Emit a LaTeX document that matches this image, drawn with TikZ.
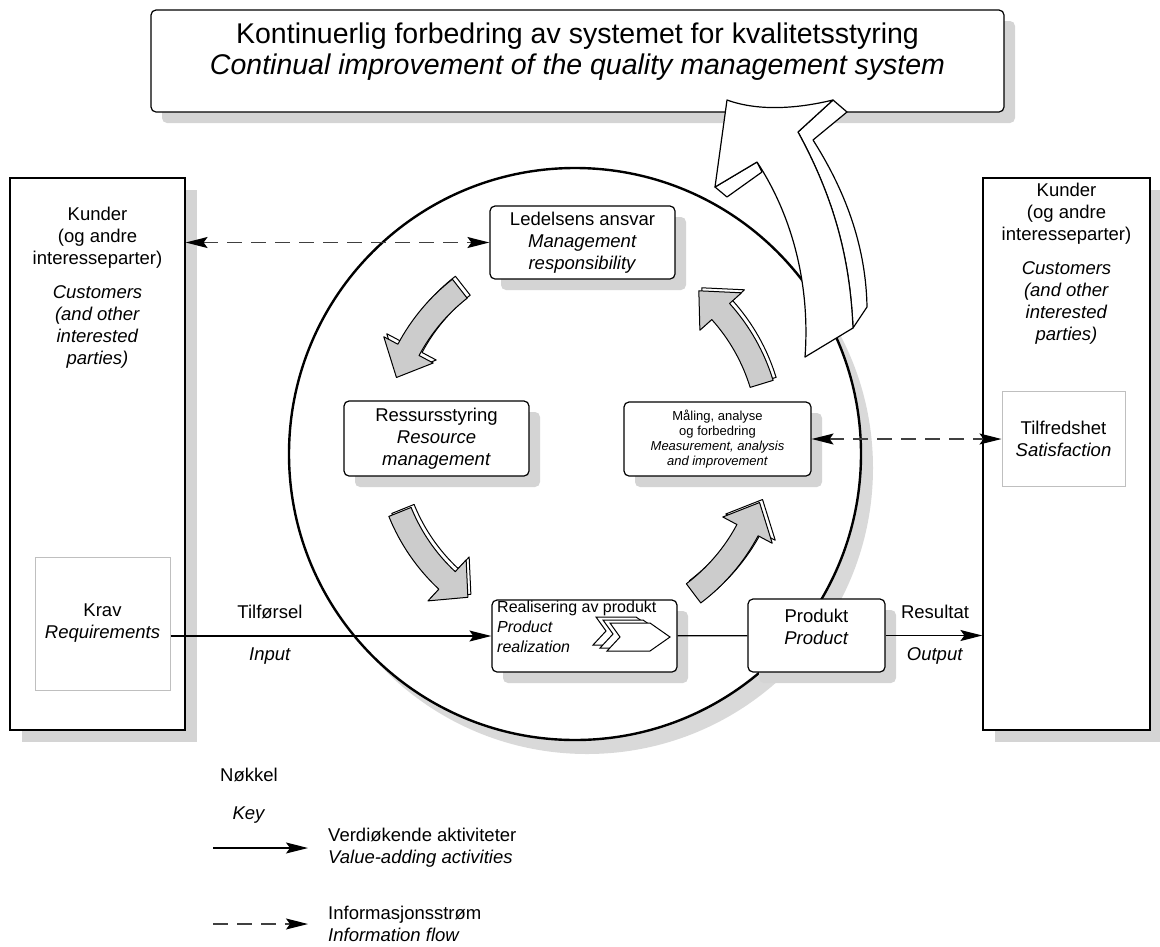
\documentclass[tikz,border=0pt]{standalone}
\usepackage{fontspec}
\setmainfont{Liberation Sans}
\usetikzlibrary{arrows.meta,shadows}

\tikzstyle{box}=[draw, fill=white, rounded corners=5pt, line width=1.2pt,
                 inner sep=0pt, align=center,
                 font=\fontsize{18.5}{22}\selectfont,
                 drop shadow={shadow xshift=11pt, shadow yshift=-11pt,
                              fill=black!17, draw=none, opacity=1}]
\tikzstyle{party}=[draw, fill=white, line width=1.2pt, inner sep=0pt,
                   drop shadow={shadow xshift=12pt, shadow yshift=-12pt,
                                fill=black!17, draw=none, opacity=1}]
\tikzstyle{inbox}=[draw=black!25, fill=white, line width=1pt,
                   inner sep=0pt, align=center,
                   font=\fontsize{18.5}{22}\selectfont]
\tikzstyle{txt}=[inner sep=0pt, align=center,
                 font=\fontsize{18.5}{22}\selectfont]
\tikzstyle{onehead}=[-{Stealth[length=22pt, width=11pt, inset=4pt, color=black]}]
\tikzstyle{twohead}=[{Stealth[length=22pt, width=11pt, inset=4pt, color=black]}-{Stealth[length=22pt, width=11pt, inset=4pt, color=black]}]
\tikzstyle{flow}=[line width=1.2pt]
\tikzstyle{info}=[line width=1.2pt, draw=black!75, dash pattern=on 15pt off 9pt]
\tikzstyle{cycleface}=[draw, fill=gray!40, line width=1pt, line join=round]
\tikzstyle{cycleside}=[draw, fill=white, line width=1pt, line join=round]
\tikzstyle{bigarrow}=[draw, fill=white, line width=1.2pt, line join=round]

\begin{document}
\begin{tikzpicture}[x=1pt, y=-1pt]
    \useasboundingbox (0,0) rectangle (1160,946);

    \node (goal) at (577.5,61) [box, minimum width=853, minimum height=102] {};
    \node (goaltext) at (577.5,52) [inner sep=0pt, align=center,
        font=\fontsize{28.5}{31}\selectfont]
        {Kontinuerlig forbedring av systemet for kvalitetsstyring\\
         \textit{Continual improvement of the quality management system}};

    \node (left)  at (97.5,454)   [party, minimum width=175, minimum height=552] {};
    \node (right) at (1066.5,454) [party, minimum width=167, minimum height=552] {};
    \node (lefttext) at (97.5,288) [txt]
        {Kunder\\(og andre\\interesseparter)\\[12pt]\textit{Customers}\\
         \textit{(and other}\\\textit{interested}\\\textit{parties)}};
    \node (righttext) at (1066.5,263.5) [txt]
        {Kunder\\(og andre\\interesseparter)\\[12pt]\textit{Customers}\\
         \textit{(and other}\\\textit{interested}\\\textit{parties)}};
    \node (krav) at (102.5,623.5) [inbox, minimum width=135, minimum height=133]
        {Krav\\\textit{Requirements}};
    \node (tilf) at (1063.5,439) [inbox, minimum width=123, minimum height=95]
        {Tilfredshet\\\textit{Satisfaction}};

    \fill[black!15] (587,468) circle (286);
    \draw[line width=2.4pt, fill=white] (575,454) circle (286);

    \node (lead) at (582.5,242.5) [box, minimum width=185, minimum height=73]
        {Ledelsens ansvar\\\textit{Management}\\\textit{responsibility}};
    \node (res) at (436.5,438.5) [box, minimum width=185, minimum height=75]
        {Ressursstyring\\\textit{Resource}\\\textit{management}};
    \node (meas) at (717.5,439) [box, minimum width=187, minimum height=74,
        font=\fontsize{13}{15}\selectfont]
        {Måling, analyse\\og forbedring\\\textit{Measurement, analysis}\\\textit{and improvement}};
    \node (real) at (584.5,636) [box, minimum width=185, minimum height=72] {};
    \node (realtext) at (497,627) [anchor=west, inner sep=0pt, align=left,
        font=\fontsize{16}{20}\selectfont]
        {Realisering av produkt\\\textit{Product}\\\textit{realization}};
    \node (prod) at (816.5,635.5) [box, minimum width=137, minimum height=73] {};
    \node (prodtext) at (816.5,627) [txt] {Produkt\\\textit{Product}};

    \foreach \dx/\dy in {-14/-6, -7/-3, 0/0}
      \draw [fill=white, line width=1pt, shift={(\dx,\dy)}]
        (610,623) -- (650,623) -- (670,637) -- (650,651) -- (607,651) -- (620,637) -- cycle;

    \begin{scope}[shift={(578,440)}]
      \foreach \angA/\angB/\angC in {-128/-152/-161, 158/133/125, 53/28/19, -17/-42/-51} {
        \draw [cycleside, shift={(3,-3)}]
          (\angA:180) arc[start angle=\angA, end angle=\angB, radius=180]
          -- (\angB:164) -- (\angC:192) -- (\angB:220) -- (\angB:204)
          arc[start angle=\angB, end angle=\angA, radius=204] -- cycle;
        \draw [cycleface]
          (\angA:180) arc[start angle=\angA, end angle=\angB, radius=180]
          -- (\angB:164) -- (\angC:192) -- (\angB:220) -- (\angB:204)
          arc[start angle=\angB, end angle=\angA, radius=204] -- cycle;
      }
    \end{scope}

    \draw [bigarrow] (833,100) -- (847,112) -- (813,140)
      .. controls (848,195) and (866,250) .. (867,307) -- (853,328)
      .. controls (850,260) and (835,200) .. (798,132) -- cycle;
    \draw [bigarrow] (715,187) -- (727,197) -- (762,172) -- (757,162) -- cycle;
    \draw [bigarrow] (727,100) .. controls (760,112) and (800,108) .. (833,100)
      -- (798,132) .. controls (835,200) and (850,260) .. (853,328)
      -- (805,357) .. controls (810,290) and (795,220) .. (757,162)
      -- (715,187) -- cycle;

    \draw [flow, onehead] (real.west -| krav.east) -- (real.west);
    \draw [flow] (real) -- (prod);
    \draw [flow, onehead] (prod.east) -- (prod.east -| right.west);
    \draw [info, twohead] (left.east |- lead.west) -- (lead.west);
    \draw [info, twohead] (meas.east) -- (meas.east -| tilf.west);

    \node (inlbl)   at (270,612) [txt] {Tilførsel};
    \node (inlbl2)  at (270,656) [txt] {\textit{Input}};
    \node (outlbl)  at (935,612) [txt] {Resultat};
    \node (outlbl2) at (935,656) [txt] {\textit{Output}};

    \node (key)  at (249,775) [txt] {Nøkkel};
    \node (key2) at (249,815) [txt] {\textit{Key}};
    \coordinate (va) at (213,848);
    \coordinate (vb) at (308,848);
    \draw [flow, onehead] (va) -- (vb);
    \node (vtext) at (328,848) [txt, anchor=west, align=left]
        {Verdiøkende aktiviteter\\\textit{Value-adding activities}};
    \coordinate (ia) at (213,924);
    \coordinate (ib) at (308,924);
    \draw [info, onehead] (ia) -- (ib);
    \node (itext) at (328,924) [txt, anchor=west, align=left]
        {Informasjonsstrøm\\\textit{Information flow}};
\end{tikzpicture}
\end{document}
